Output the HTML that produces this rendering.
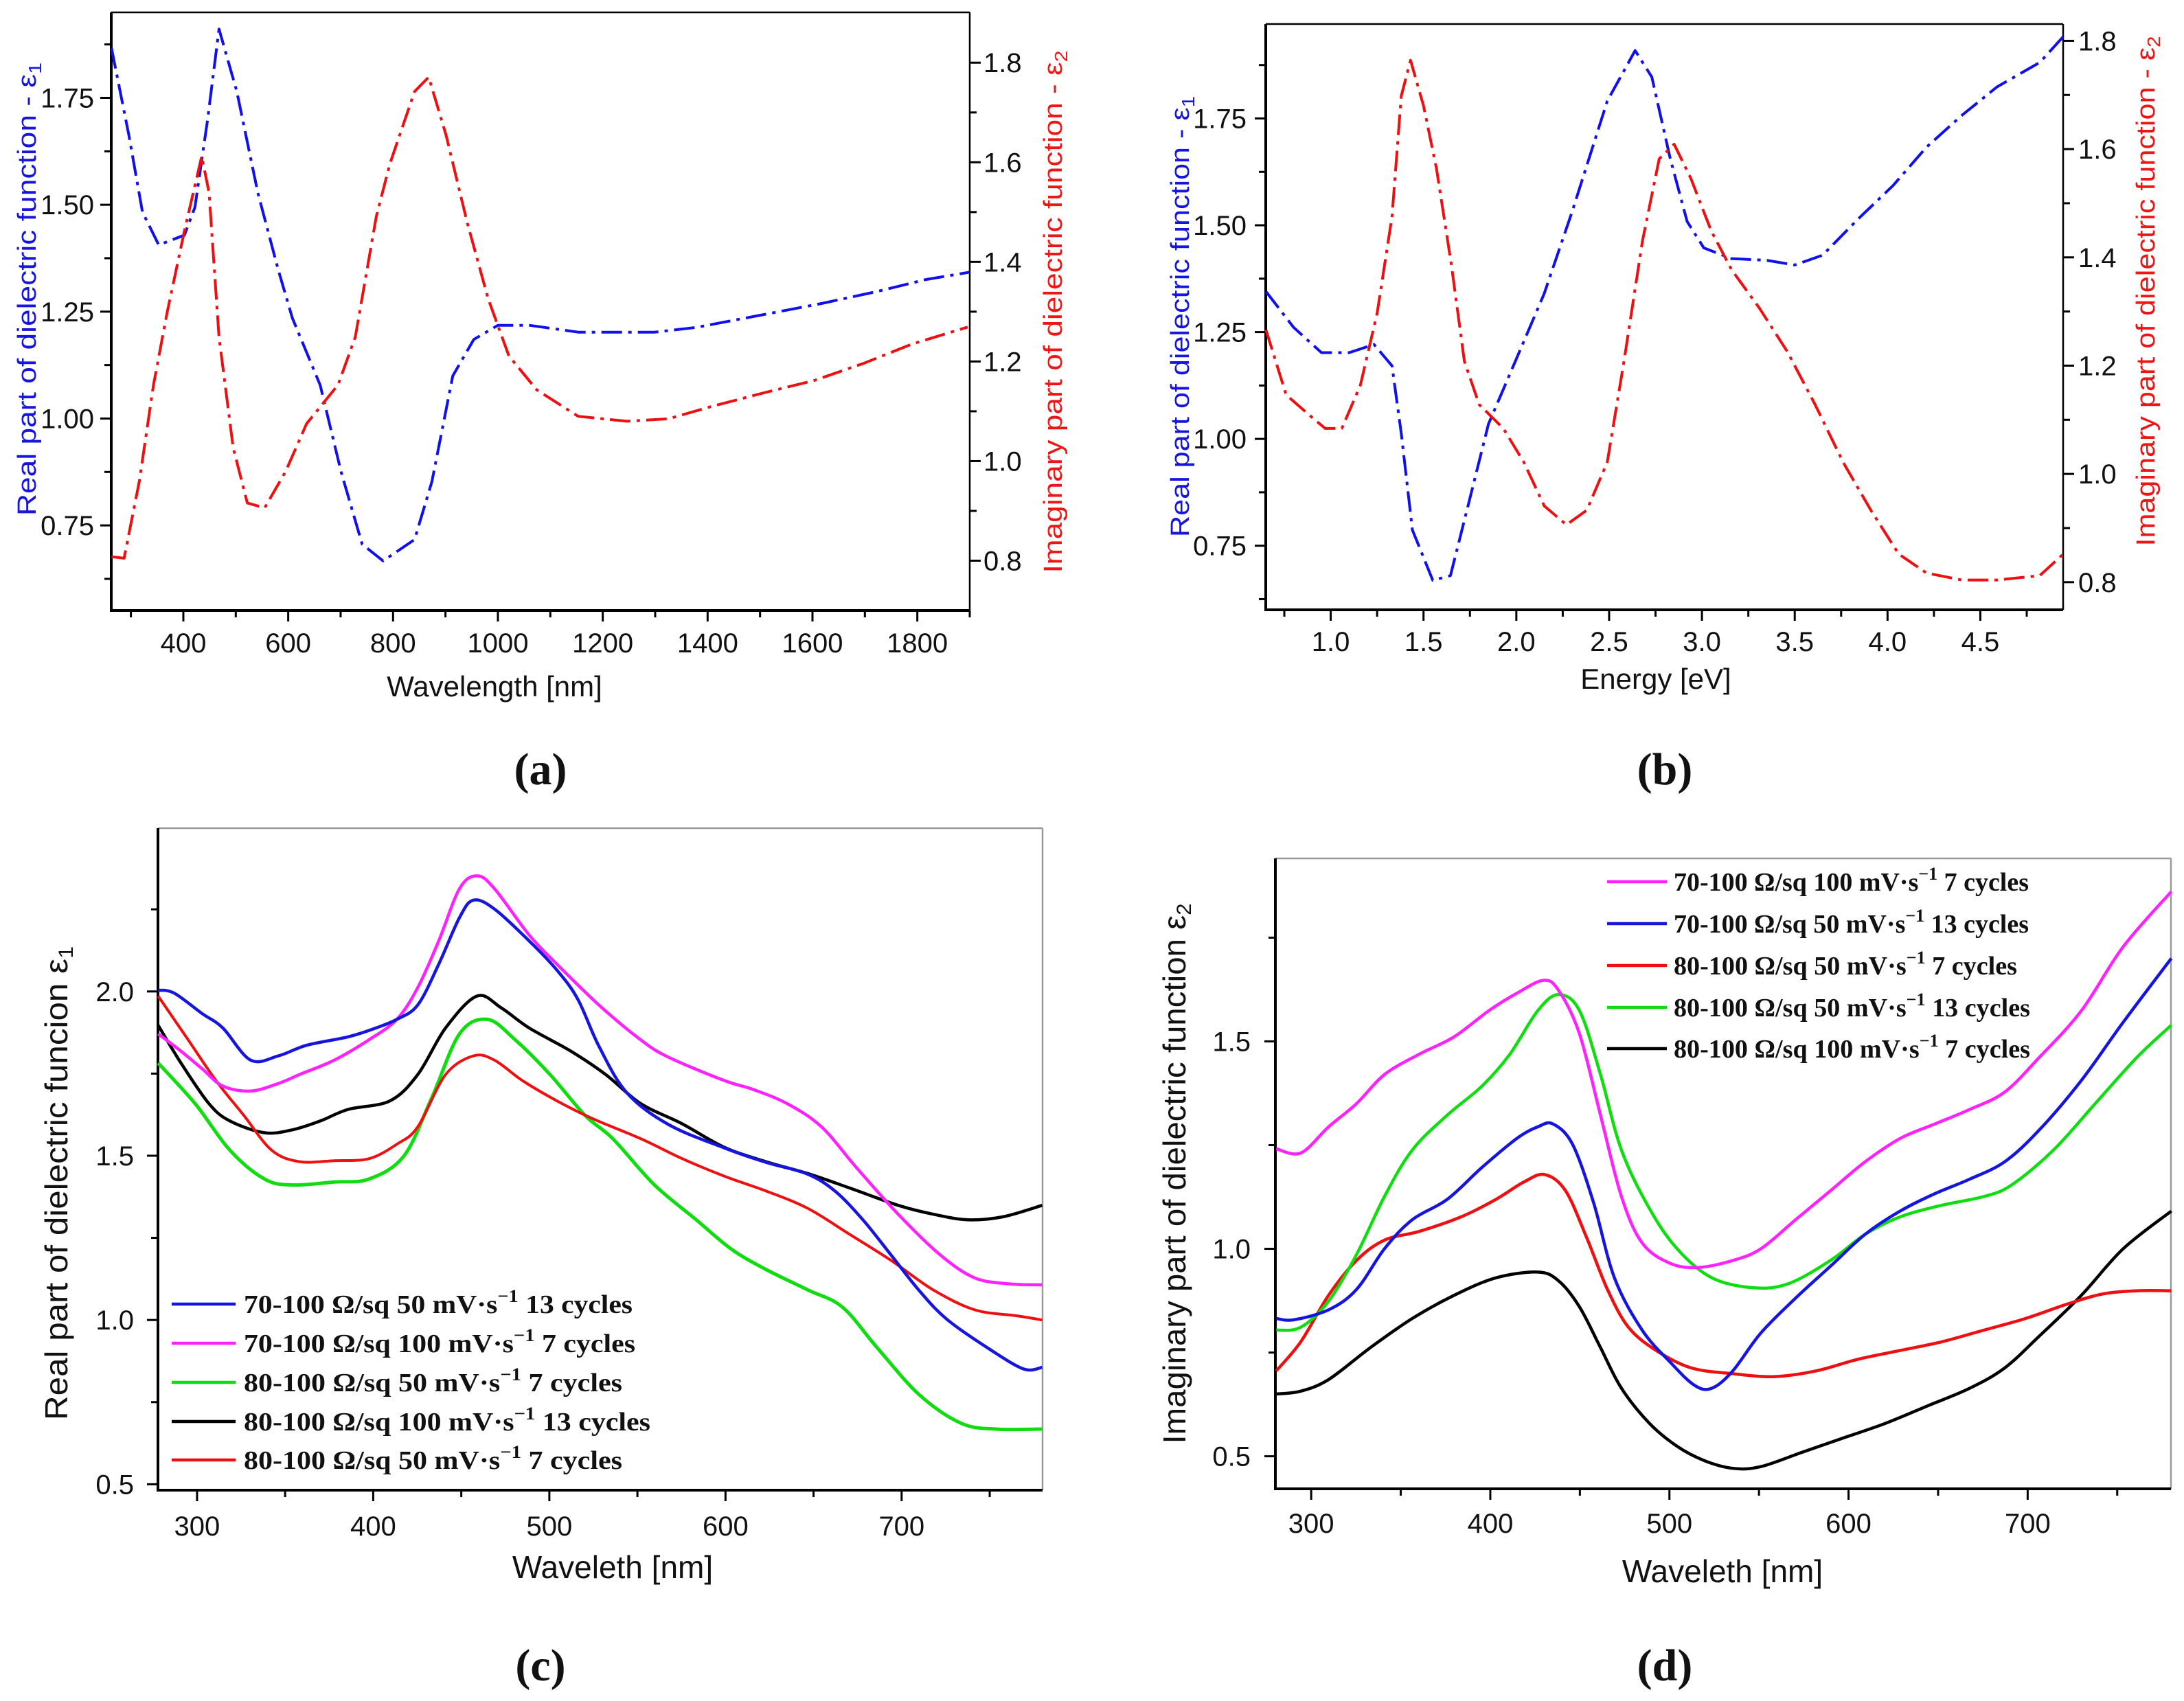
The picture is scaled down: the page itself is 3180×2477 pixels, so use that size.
<!DOCTYPE html>
<html><head><meta charset="utf-8"><style>
html,body{margin:0;padding:0;background:#fff}
svg{display:block}
.tk{font-family:"Liberation Sans Narrow","Liberation Sans",sans-serif;font-size:40px;fill:#111}
.ttl{font-family:"Liberation Sans",sans-serif}
.lg{font-family:"Liberation Serif",serif;font-weight:bold;font-size:38px;fill:#111}
.pl{font-family:"Liberation Serif",serif;font-weight:bold;font-size:66px;fill:#111}
</style></head><body>
<svg id="fig" width="3180" height="2477" viewBox="0 0 3180 2477" xmlns="http://www.w3.org/2000/svg">
<rect width="3180" height="2477" fill="#fff"/>
<text class="pl" x="787" y="1142" text-anchor="middle">(a)</text>
<text class="pl" x="2424" y="1142" text-anchor="middle">(b)</text>
<text class="pl" x="787" y="2447" text-anchor="middle">(c)</text>
<text class="pl" x="2424" y="2447" text-anchor="middle">(d)</text>
</svg>
<script>
// ---------- Panel (a) data ----------
const aBlueX=[263,296,322,353,402,422,446,468,502,542,581,608,661,701,741,781,841,874,914,954,1000,1060,1153,1299,1378,1498,1617,1723,1816,1899];
const aBlueY=[1.866,1.663,1.483,1.406,1.429,1.494,1.697,1.911,1.765,1.528,1.348,1.235,1.078,0.875,0.706,0.667,0.717,0.852,1.100,1.185,1.218,1.218,1.202,1.202,1.213,1.241,1.269,1.297,1.325,1.342];
const aRedX=[263,287,316,343,369,402,435,449,468,495,522,555,595,635,695,728,768,794,841,868,901,941,981,1021,1074,1153,1246,1326,1405,1511,1604,1697,1790,1896];
const aRedY=[0.808,0.805,0.959,1.153,1.298,1.462,1.612,1.539,1.249,1.027,0.916,0.906,0.979,1.075,1.153,1.249,1.491,1.597,1.742,1.771,1.655,1.481,1.327,1.211,1.143,1.090,1.080,1.085,1.109,1.138,1.162,1.196,1.235,1.269];
const aXTicks=[400,600,800,1000,1200,1400,1600,1800];
const aYTicks=[0.75,1.00,1.25,1.50,1.75];
const aY2Ticks=[0.8,1.0,1.2,1.4,1.6,1.8];
// ---------- Panel (b) data ----------
const bBlueX=[0.651,0.80,0.95,1.10,1.233,1.33,1.38,1.44,1.55,1.645,1.74,1.85,2.00,2.15,2.30,2.49,2.64,2.73,2.83,2.92,3.01,3.16,3.35,3.50,3.65,3.84,4.03,4.21,4.40,4.59,4.82,4.95];
const bBlueY=[1.345,1.261,1.202,1.202,1.221,1.171,1.013,0.787,0.669,0.680,0.844,1.035,1.187,1.340,1.531,1.791,1.909,1.847,1.655,1.509,1.447,1.422,1.418,1.407,1.430,1.514,1.593,1.683,1.757,1.824,1.881,1.943];
const bRedX=[0.651,0.76,0.88,0.97,1.06,1.16,1.25,1.33,1.38,1.43,1.50,1.57,1.65,1.72,1.80,1.93,2.04,2.15,2.27,2.38,2.49,2.58,2.68,2.77,2.85,2.94,3.05,3.16,3.31,3.46,3.61,3.76,3.91,4.06,4.21,4.40,4.59,4.82,4.95];
const bRedY=[1.266,1.146,1.110,1.084,1.084,1.164,1.297,1.475,1.698,1.764,1.680,1.564,1.386,1.208,1.128,1.084,1.022,0.941,0.906,0.933,1.022,1.208,1.431,1.582,1.609,1.546,1.449,1.377,1.306,1.226,1.128,1.022,0.933,0.852,0.817,0.804,0.804,0.812,0.853];
const bXTicks=[1.0,1.5,2.0,2.5,3.0,3.5,4.0,4.5];
const bYTicks=[0.75,1.00,1.25,1.50,1.75];
const bY2Ticks=[0.8,1.0,1.2,1.4,1.6,1.8];
// ---------- Panel (c) data ----------
const cBlueX=[277.9,287,302.8,314.6,330.4,346.2,362.1,385.8,401.6,413.4,425.3,437.2,449,456.9,468.8,488.5,504.3,516.2,528.1,543.9,567.6,599.2,622.9,646.6,662.5,678.3,694.1,709.9,725.7,749.4,769.2,779.8];
const cBlueY=[2.004,1.995,1.933,1.889,1.791,1.804,1.836,1.862,1.889,1.915,1.959,2.083,2.225,2.278,2.251,2.154,2.065,1.976,1.834,1.692,1.595,1.524,1.480,1.444,1.391,1.303,1.197,1.090,1.002,0.913,0.851,0.856];
const cMagX=[277.9,290.9,302.8,314.6,330.4,346.2,358.1,377.9,397.6,413.4,425.3,437.2,449,458.9,468.8,488.5,504.3,528.1,551.8,567.6,599.2,615,634.8,654.5,674.3,698,721.7,741.5,761.3,779.8];
const cMagY=[1.871,1.818,1.765,1.712,1.697,1.720,1.747,1.791,1.853,1.915,2.012,2.154,2.313,2.352,2.313,2.172,2.083,1.959,1.853,1.800,1.729,1.703,1.659,1.588,1.464,1.322,1.199,1.128,1.110,1.107];
const cGreenX=[277.9,298.8,318.6,338.3,354.2,377.9,397.6,417.4,433.2,449,464.8,480.6,500.4,520.2,536,559.7,583.4,603.2,622.9,646.6,666.4,686.2,709.9,733.6,753.4,779.8];
const cGreenY=[1.782,1.659,1.517,1.429,1.411,1.420,1.429,1.499,1.676,1.871,1.915,1.853,1.747,1.623,1.552,1.411,1.305,1.216,1.154,1.092,1.039,0.915,0.773,0.686,0.668,0.668];
const cBlackX=[277.9,290.9,306.7,318.6,338.3,354.2,370,385.8,409.5,425.3,441.1,458.9,472.7,488.5,512.3,532,551.8,575.5,599.2,622.9,646.6,670.4,698,717.8,737.5,757.3,779.8];
const cBlackY=[1.897,1.782,1.659,1.606,1.570,1.579,1.606,1.641,1.667,1.747,1.889,1.986,1.950,1.889,1.818,1.747,1.659,1.597,1.526,1.482,1.446,1.402,1.349,1.322,1.305,1.314,1.349];
const cRedX=[277.9,294.9,310.7,326.5,342.3,358.1,377.9,397.6,413.4,425.3,441.1,456.9,468.8,484.6,504.3,524.1,551.8,575.5,599.2,622.9,646.6,670.4,694.1,717.8,741.5,765.2,779.8];
const cRedY=[1.986,1.853,1.729,1.623,1.517,1.482,1.485,1.491,1.535,1.588,1.747,1.804,1.791,1.729,1.667,1.614,1.552,1.491,1.438,1.393,1.340,1.261,1.181,1.092,1.031,1.013,1.000];
const cXTicks=[300,400,500,600,700];
const cYTicks=[0.5,1.0,1.5,2.0];
// ---------- Panel (d) data ----------
const dMagX=[280.5,294.2,309.7,325.3,340.9,360.3,379.8,399.2,414.8,429.6,438.1,449.8,461.5,473.2,484.8,500.4,516,535.4,551,570.4,589.9,609.3,628.8,648.2,667.7,687.2,706.6,730,753.3,780.2];
const dMagY=[1.241,1.231,1.294,1.350,1.420,1.469,1.511,1.574,1.616,1.647,1.623,1.518,1.322,1.126,1.014,0.965,0.955,0.972,1.000,1.070,1.140,1.210,1.266,1.301,1.336,1.378,1.462,1.574,1.728,1.861];
const dBlueX=[280.5,290.3,309.7,325.3,340.9,356.4,375.9,395.3,414.8,426.5,435,445.9,457.6,469.3,484.8,500.4,514,523.7,535.4,551,570.4,589.9,609.3,628.8,648.2,667.7,687.2,706.6,730,753.3,780.2];
const dBlueY=[0.832,0.829,0.853,0.902,1.000,1.070,1.119,1.196,1.266,1.294,1.301,1.252,1.112,0.930,0.804,0.727,0.671,0.664,0.706,0.797,0.881,0.958,1.035,1.091,1.133,1.168,1.210,1.287,1.406,1.546,1.700];
const dRedX=[280.5,294.2,309.7,325.3,340.9,360.3,383.7,403.1,418.7,430.4,442,453.7,465.4,477.1,492.6,512.1,535.4,558.8,582.1,605.4,628.8,652.1,675.5,698.8,722.2,741.6,761.1,780.2];
const dRedY=[0.706,0.776,0.888,0.972,1.021,1.042,1.077,1.119,1.161,1.179,1.140,1.028,0.902,0.811,0.755,0.713,0.699,0.692,0.706,0.734,0.755,0.776,0.804,0.832,0.867,0.891,0.899,0.899];
const dGreenX=[280.5,294.2,309.7,325.3,340.9,356.4,375.9,395.3,410.9,426.5,438.1,449.8,461.5,473.2,488.7,504.3,523.7,547.1,566.5,589.9,609.3,628.8,652.1,675.5,691.1,714.4,737.7,761.1,780.2];
const dGreenY=[0.804,0.811,0.874,0.986,1.126,1.238,1.322,1.392,1.469,1.574,1.613,1.574,1.420,1.238,1.098,1.000,0.930,0.906,0.916,0.972,1.035,1.077,1.105,1.126,1.154,1.238,1.350,1.462,1.539];
const dBlackX=[280.5,294.2,309.7,333.1,356.4,379.8,403.1,426.5,438.1,449.8,461.5,473.2,488.7,504.3,519.8,535.4,551,574.3,597.7,621,644.4,667.7,687.2,706.6,730,753.3,780.2];
const dBlackY=[0.650,0.657,0.685,0.762,0.832,0.888,0.930,0.944,0.923,0.860,0.762,0.664,0.580,0.524,0.489,0.471,0.475,0.510,0.545,0.580,0.622,0.664,0.713,0.790,0.888,1.000,1.091];
const dXTicks=[300,400,500,600,700];
const dYTicks=[0.5,1.0,1.5];

const NS="http://www.w3.org/2000/svg";
const svg=document.getElementById('fig');
function mk(tag,attrs,parent){const e=document.createElementNS(NS,tag);for(const k in attrs)e.setAttribute(k,attrs[k]);(parent||svg).appendChild(e);return e;}
function scale(d0,d1,p0,p1){return v=>p0+(v-d0)/(d1-d0)*(p1-p0);}

function frame(L,T,R,B,topCol){
  const f=mk('path',{d:`M${L},${T}H${R}`,stroke:topCol,'stroke-width':2.5,fill:'none'});
  
  
  const g=mk('path',{d:`M${R},${T}V${B}`,stroke:topCol,'stroke-width':2.5,fill:'none'});
  
  
  const a=mk('path',{d:`M${L},${T}V${B}H${R}`,stroke:'#000','stroke-width':4,fill:'none'});
  
  
}
function xTicks(xs,ticks,minor,B,labY,fmt,nm){
  ticks.forEach(t=>{
    const l=mk('line',{x1:xs(t),x2:xs(t),y1:B,y2:B+16,stroke:'#000','stroke-width':3});
    
    
    const tx=mk('text',{class:'tk',x:xs(t),y:labY,'text-anchor':'middle'});
    tx.textContent=fmt(t);
    
    
  });
  minor.forEach(t=>{
    const l=mk('line',{x1:xs(t),x2:xs(t),y1:B,y2:B+10,stroke:'#000','stroke-width':3});
    
    
  });
}
function yTicks(ys,ticks,minor,X,dir,labX,anchor,fmt,nm){
  ticks.forEach(t=>{
    const l=mk('line',{x1:X,x2:X+dir*16,y1:ys(t),y2:ys(t),stroke:'#000','stroke-width':3});
    
    
    const tx=mk('text',{class:'tk',x:labX,y:ys(t)+14,'text-anchor':anchor});
    tx.textContent=fmt(t);
    
    
  });
  minor.forEach(t=>{
    const l=mk('line',{x1:X,x2:X+dir*10,y1:ys(t),y2:ys(t),stroke:'#000','stroke-width':3});
    
    
  });
}
function line(xs,ys,X,Y,col,w,dash,nm,smooth){
  const P=X.map((x,i)=>[xs(x),ys(Y[i])]);
  let d='M'+P[0][0].toFixed(1)+','+P[0][1].toFixed(1);
  if(!smooth){for(let i=1;i<P.length;i++)d+='L'+P[i][0].toFixed(1)+','+P[i][1].toFixed(1);}
  else{for(let i=0;i<P.length-1;i++){const p0=P[Math.max(0,i-1)],p1=P[i],p2=P[i+1],p3=P[Math.min(P.length-1,i+2)];
    const c1=[p1[0]+(p2[0]-p0[0])/6,p1[1]+(p2[1]-p0[1])/6],c2=[p2[0]-(p3[0]-p1[0])/6,p2[1]-(p3[1]-p1[1])/6];
    d+=`C${c1[0].toFixed(1)},${c1[1].toFixed(1)} ${c2[0].toFixed(1)},${c2[1].toFixed(1)} ${p2[0].toFixed(1)},${p2[1].toFixed(1)}`;}}
  const a={d:d,stroke:col,'stroke-width':w,fill:'none','stroke-linejoin':'round'};
  if(dash)a['stroke-dasharray']=dash;
  const p=mk('path',a);
  
  
}
function rotTitle(x,y,len,size,col,html,nm){
  const t=mk('text',{class:'ttl',x:0,y:0,transform:`translate(${x},${y}) rotate(-90)`,'text-anchor':'middle','font-size':size,fill:col,textLength:len,lengthAdjust:'spacingAndGlyphs'});
  t.innerHTML=html;
  
  
}
function title(x,y,size,txt,nm){
  const t=mk('text',{class:'ttl',x:x,y:y,'text-anchor':'middle','font-size':size,fill:'#111'});
  t.textContent=txt;
  
  
}
const f2=v=>v.toFixed(2), f1=v=>v.toFixed(1), f0=v=>String(v);
const DASH="30 9 5 9";

// ---- Panel (a) ----
{const L=162,R=1412,T=18,B=889;
 const xs=scale(262.5,1900,L,R), ys=scale(0.551,1.950,B,T), y2=scale(0.700,1.901,B,T);
 frame(L,T,R,B,'#000');
 xTicks(xs,aXTicks,[300,500,700,900,1100,1300,1500,1700,1900],B,950,f0,'a');
 yTicks(ys,aYTicks,[0.625,0.875,1.125,1.375,1.625,1.875],L,-1,137,'end',f2,'a-y');
 yTicks(y2,aY2Ticks,[0.9,1.1,1.3,1.5,1.7],R,1,1432,'start',f1,'a-y2');
 line(xs,ys,aBlueX,aBlueY,'#1010ee',4,DASH,'a-epsilon1-line');
 line(xs,y2,aRedX,aRedY,'#ee1010',4,DASH,'a-epsilon2-line');
 rotTitle(52,421,660,38,'#1515dd','Real part of dielectric function - ε<tspan font-size="26" dy="8">1</tspan>','a-y-axis-title');
 rotTitle(1546,454,761,38,'#ee1515','Imaginary part of dielectric function - ε<tspan font-size="26" dy="8">2</tspan>','a-y2-axis-title');
 title(720,1014,42,'Wavelength [nm]','a-x-axis-title');}
// ---- Panel (b) ----
{const L=1843,R=3004,T=35,B=888;
 const xs=scale(0.65,4.946,L,R), ys=scale(0.600,1.971,B,T), y2=scale(0.749,1.831,B,T);
 frame(L,T,R,B,'#000');
 xTicks(xs,bXTicks,[0.75,1.25,1.75,2.25,2.75,3.25,3.75,4.25,4.75],B,948,f1,'b');
 yTicks(ys,bYTicks,[0.625,0.875,1.125,1.375,1.625,1.875],L,-1,1815,'end',f2,'b-y');
 yTicks(y2,bY2Ticks,[0.9,1.1,1.3,1.5,1.7],R,1,3026,'start',f1,'b-y2');
 line(xs,ys,bBlueX,bBlueY,'#1010ee',4,DASH,'b-epsilon1-line');
 line(xs,y2,bRedX,bRedY,'#ee1010',4,DASH,'b-epsilon2-line');
 rotTitle(1731,461,642,38,'#1515dd','Real part of dielectric function - ε<tspan font-size="26" dy="8">1</tspan>','b-y-axis-title');
 rotTitle(3137,424,743,38,'#ee1515','Imaginary part of dielectric function - ε<tspan font-size="26" dy="8">2</tspan>','b-y2-axis-title');
 title(2411,1003,42,'Energy [eV]','b-x-axis-title');}
// ---- Panel (c) ----
{const L=230,R=1518,T=1206,B=2170;
 const xs=scale(277.8,780,L,R), ys=scale(0.482,2.497,B,T);
 frame(L,T,R,B,'#999');
 xTicks(xs,cXTicks,[350,450,550,650,750],B,2236,f0,'c');
 yTicks(ys,cYTicks,[0.75,1.25,1.75,2.25],L,-1,195,'end',f1,'c-y');
 line(xs,ys,cBlackX,cBlackY,'#000',4.5,null,'c-black-line',true);
 line(xs,ys,cGreenX,cGreenY,'#10dd10',5,null,'c-green-line',true);
 line(xs,ys,cRedX,cRedY,'#ee1010',4,null,'c-red-line',true);
 line(xs,ys,cMagX,cMagY,'#ff22ff',4.5,null,'c-magenta-line',true);
 line(xs,ys,cBlueX,cBlueY,'#1515dd',4.5,null,'c-blue-line',true);
 rotTitle(98,1723,690,46,'#111','Real part of dielectric funcion ε<tspan font-size="30" dy="8">1</tspan>','c-y-axis-title');
 title(892,2298,46,'Waveleth [nm]','c-x-axis-title');}
// ---- Panel (d) ----
{const L=1857,R=3161,T=1250,B=2168;
 const xs=scale(280,780,L,R), ys=scale(0.4216,1.941,B,T);
 frame(L,T,R,B,'#999');
 xTicks(xs,dXTicks,[350,450,550,650,750],B,2232,f0,'d');
 yTicks(ys,dYTicks,[0.75,1.25,1.75],L,-1,1821,'end',f1,'d-y');
 line(xs,ys,dBlackX,dBlackY,'#000',4.5,null,'d-black-line',true);
 line(xs,ys,dRedX,dRedY,'#ee1010',4.5,null,'d-red-line',true);
 line(xs,ys,dGreenX,dGreenY,'#10dd10',4.5,null,'d-green-line',true);
 line(xs,ys,dBlueX,dBlueY,'#1515dd',4.5,null,'d-blue-line',true);
 line(xs,ys,dMagX,dMagY,'#ff22ff',4.5,null,'d-magenta-line',true);
 rotTitle(1726,1709,787,46,'#111','Imaginary part of dielectric function ε<tspan font-size="30" dy="8">2</tspan>','d-y-axis-title');
 title(2508,2304,46,'Waveleth [nm]','d-x-axis-title');}

// ---- Legends ----
const cLegColors=['#1515dd','#ff22ff','#10dd10','#000','#ee1010'];
const cLegText=[['70-100 Ω/sq 50 mV·s','13 cycles'],['70-100 Ω/sq 100 mV·s','7 cycles'],['80-100 Ω/sq 50 mV·s','7 cycles'],['80-100 Ω/sq 100 mV·s','13 cycles'],['80-100 Ω/sq 50 mV·s','7 cycles']];
const cLegY=[1899,1956,2013,2070,2126], cLegW=[566,570,551,592,551];
const dLegColors=['#ff22ff','#1515dd','#ee1010','#10dd10','#000'];
const dLegText=[['70-100 Ω/sq 100 mV·s','7 cycles'],['70-100 Ω/sq 50 mV·s','13 cycles'],['80-100 Ω/sq 50 mV·s','7 cycles'],['80-100 Ω/sq 50 mV·s','13 cycles'],['80-100 Ω/sq 100 mV·s','7 cycles']];
const dLegY=[1284,1345,1406,1467,1527], dLegW=[517,517,500,519,519];
function legend(colors,texts,Ys,Ws,x0,x1,tx,nm){
  colors.forEach((c,i)=>{
    const l=mk('line',{x1:x0,x2:x1,y1:Ys[i],y2:Ys[i],stroke:c,'stroke-width':4.5});
    
    
    const t=mk('text',{class:'lg',x:tx,y:Ys[i]+13,textLength:Ws[i],lengthAdjust:'spacingAndGlyphs'});
    t.innerHTML=texts[i][0]+'<tspan font-size="26" dy="-16">−1</tspan><tspan dy="16"> '+texts[i][1]+'</tspan>';
    
    
  });
}
legend(cLegColors,cLegText,cLegY,cLegW,250,343,355,'c-legend-entry');
legend(dLegColors,dLegText,dLegY,dLegW,2340,2427,2437,'d-legend-entry');
</script>
</body></html>
